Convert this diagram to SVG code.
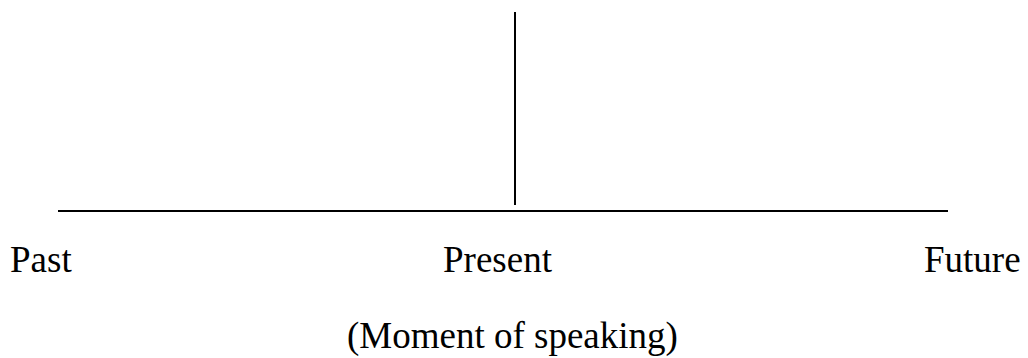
<svg xmlns="http://www.w3.org/2000/svg" width="1028" height="358" viewBox="0 0 1028 358">
<style>
.ln{stroke:#000;stroke-width:2;fill:none}
.t{font-family:"Liberation Serif","Times New Roman",serif;font-size:37px;fill:#000}
</style>
<rect width="1028" height="358" fill="#fff"/>
<g id="connectors">
<line class="ln" x1="58" y1="211" x2="948" y2="211"/>
<line class="ln" x1="515" y1="12" x2="515" y2="205"/>
</g>
<g id="past"><text class="t" x="10" y="272">Past</text></g>
<g id="present"><text class="t" x="443" y="272">Present</text></g>
<g id="future"><text class="t" x="924" y="272">Future</text></g>
<g id="moment"><text class="t" x="347" y="348">(Moment of speaking)</text></g>
</svg>
